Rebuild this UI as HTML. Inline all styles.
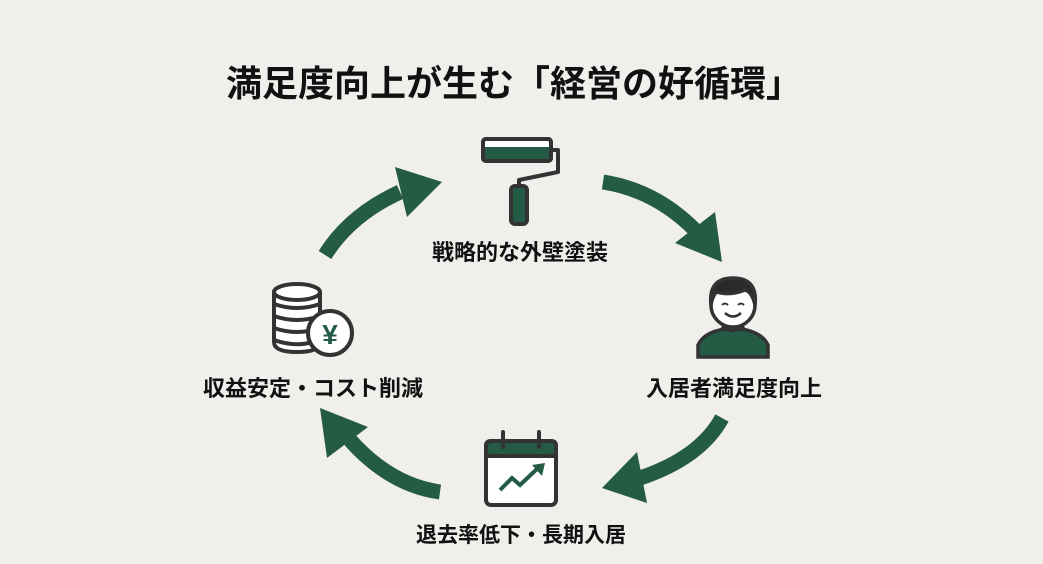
<!DOCTYPE html>
<html><head><meta charset="utf-8"><style>
html,body{margin:0;padding:0;background:#f0efeb;}
body{width:1043px;height:564px;position:relative;overflow:hidden;font-family:"Liberation Sans","Noto Sans CJK JP",sans-serif;color:#111;}
.t{position:absolute;font-weight:bold;white-space:nowrap;transform:translateX(-50%);}
</style></head><body>
<div class="t" style="left:514px;top:55px;font-size:36px;letter-spacing:0px;">満足度向上が生む「経営の好循環」</div>
<div class="t" style="left:520px;top:235px;font-size:22px;">戦略的な外壁塗装</div>
<div class="t" style="left:734px;top:371px;font-size:22px;">入居者満足度向上</div>
<div class="t" style="left:313px;top:371px;font-size:22px;">収益安定・コスト削減</div>
<div class="t" style="left:521px;top:519px;font-size:21px;">退去率低下・長期入居</div>
<svg width="1043" height="564" style="position:absolute;left:0;top:0">
<g fill="none" stroke="#245b45" stroke-width="15">
<path d="M603 182 Q655 190 695 230"/>
<path d="M325 255 Q350 215 400 192"/>
<path d="M722 418 Q700 458 640 478"/>
<path d="M440 492 Q390 485 350 440"/>
</g>
<g fill="#245b45">
<polygon points="715,212 675,243 722,262"/>
<polygon points="395,167 407,217 442,182"/>
<polygon points="637,452 647,503 602,488"/>
<polygon points="368,427 327,458 320,408"/>
</g>
<!-- roller -->
<g stroke="#333" stroke-width="4" stroke-linejoin="round">
<rect x="483" y="139" width="68" height="22" rx="3" fill="#245b45"/>
<rect x="485" y="141" width="64" height="6" fill="#fff" stroke="none"/>
<rect x="483" y="139" width="68" height="22" rx="3" fill="none"/>
<path d="M551 150 H558 V172 L519 180 V186" fill="none"/>
<rect x="511" y="186" width="16" height="38" rx="4" fill="#245b45"/>
</g>
<!-- person -->
<g stroke="#333" stroke-width="3.5">
<path d="M698 357 V345 Q705 330 733 328 Q761 330 768 345 V357 Z" fill="#245b45"/>
<path d="M722 326 Q733 335 744 326" fill="#fff"/>
<circle cx="733" cy="305" r="22" fill="#fff"/>
<path d="M711 305 Q708 278 733 278 Q758 278 755 305 Q752 292 745 290 Q730 296 716 292 Q712 298 711 305Z" fill="#2a2a2a"/>
<path d="M722 305 q3 -3 6 0 M738 305 q3 -3 6 0" fill="none" stroke-width="2"/>
<path d="M725 313 q8 7 16 0" fill="none" stroke-width="2.5"/>
</g>
<!-- calendar -->
<g stroke="#333" stroke-width="4">
<rect x="486" y="441" width="70" height="64" rx="5" fill="#fff"/>
<path d="M486 456 V446 Q486 441 491 441 H551 Q556 441 556 446 V456 Z" fill="#245b45"/>
<line x1="503" y1="432" x2="503" y2="447" stroke-linecap="round"/>
<line x1="539" y1="432" x2="539" y2="447" stroke-linecap="round"/>
</g>
<polyline points="500,490 512,478 520,485 538,468" fill="none" stroke="#245b45" stroke-width="4"/>
<polygon points="532,465 545,463 542,476" fill="#245b45"/>
<!-- coins -->
<g stroke="#333" stroke-width="4" fill="#fff">
<path d="M274 292 V342 Q274 352 297 352 Q320 352 320 342 V292"/>
<ellipse cx="297" cy="292" rx="23" ry="8"/>
<path d="M274 304 Q297 312 320 304 M274 316 Q297 324 320 316 M274 328 Q297 336 320 328 M274 340 Q297 348 315 341" fill="none"/>
<circle cx="330" cy="333" r="22"/>
</g>
<text x="330" y="344" text-anchor="middle" font-size="28" font-weight="bold" fill="#245b45" font-family="Liberation Sans,sans-serif">¥</text>
</svg>
</body></html>
